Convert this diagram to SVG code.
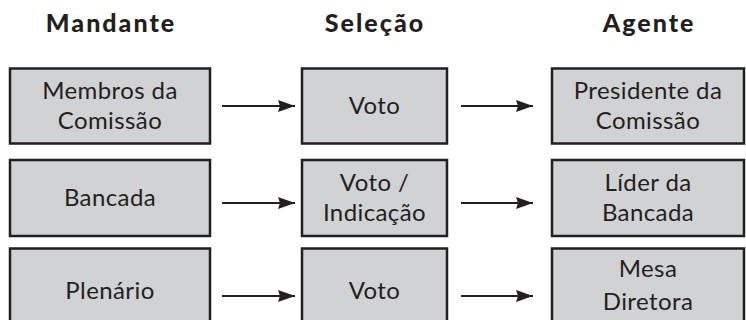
<svg xmlns="http://www.w3.org/2000/svg" width="746" height="320" viewBox="0 0 746 320">
<style>
.box{fill:#d1d2d4;stroke:#231f20;stroke-width:2.5}
.t{font-family:Lato,"Open Sans","DejaVu Sans",sans-serif;font-size:24px;letter-spacing:0.4px;fill:#231f20;text-anchor:middle}
.h{font-family:Lato,"Open Sans","DejaVu Sans",sans-serif;font-size:25px;font-weight:900;letter-spacing:2px;fill:#231f20;text-anchor:middle}
.c{stroke:#231f20;stroke-width:2;fill:none}
</style>
<defs>
<marker id="ah" markerWidth="17" markerHeight="12" refX="17" refY="6" orient="auto" markerUnits="userSpaceOnUse">
<path d="M0,0 L17,6 L0,12 L2,6 Z" fill="#231f20"/>
</marker>
</defs>
<g id="headers">
<text class="h" x="111" y="32">Mandante</text>
<text class="h" x="375" y="32">Seleção</text>
<text class="h" x="649" y="32">Agente</text>
</g>
<g id="n1"><rect class="box" x="10" y="68.5" width="200" height="75"/><text class="t" x="110" y="99">Membros da</text><text class="t" x="110" y="129">Comissão</text></g>
<g id="n2"><rect class="box" x="302" y="68.5" width="145" height="75"/><text class="t" x="374.5" y="114">Voto</text></g>
<g id="n3"><rect class="box" x="552" y="68.5" width="192" height="75"/><text class="t" x="648" y="99">Presidente da</text><text class="t" x="648" y="129">Comissão</text></g>
<g id="n4"><rect class="box" x="10" y="160" width="200" height="76"/><text class="t" x="110" y="206">Bancada</text></g>
<g id="n5"><rect class="box" x="302" y="160" width="145" height="76"/><text class="t" x="374.5" y="191">Voto /</text><text class="t" x="374.5" y="221">Indicação</text></g>
<g id="n6"><rect class="box" x="552" y="160" width="192" height="76"/><text class="t" x="648" y="191">Líder da</text><text class="t" x="648" y="221">Bancada</text></g>
<g id="n7"><rect class="box" x="10" y="248.5" width="200" height="76"/><text class="t" x="110" y="299">Plenário</text></g>
<g id="n8"><rect class="box" x="302" y="248.5" width="145" height="76"/><text class="t" x="374.5" y="299">Voto</text></g>
<g id="n9"><rect class="box" x="552" y="248.5" width="192" height="76"/><text class="t" x="648" y="277">Mesa</text><text class="t" x="648" y="310">Diretora</text></g>
<g id="connectors">
<line class="c" x1="222" y1="106" x2="295" y2="106" marker-end="url(#ah)"/>
<line class="c" x1="461" y1="106" x2="533" y2="106" marker-end="url(#ah)"/>
<line class="c" x1="222" y1="203" x2="295" y2="203" marker-end="url(#ah)"/>
<line class="c" x1="461" y1="203" x2="533" y2="203" marker-end="url(#ah)"/>
<line class="c" x1="222" y1="296" x2="295" y2="296" marker-end="url(#ah)"/>
<line class="c" x1="461" y1="296" x2="533" y2="296" marker-end="url(#ah)"/>
</g>
</svg>
